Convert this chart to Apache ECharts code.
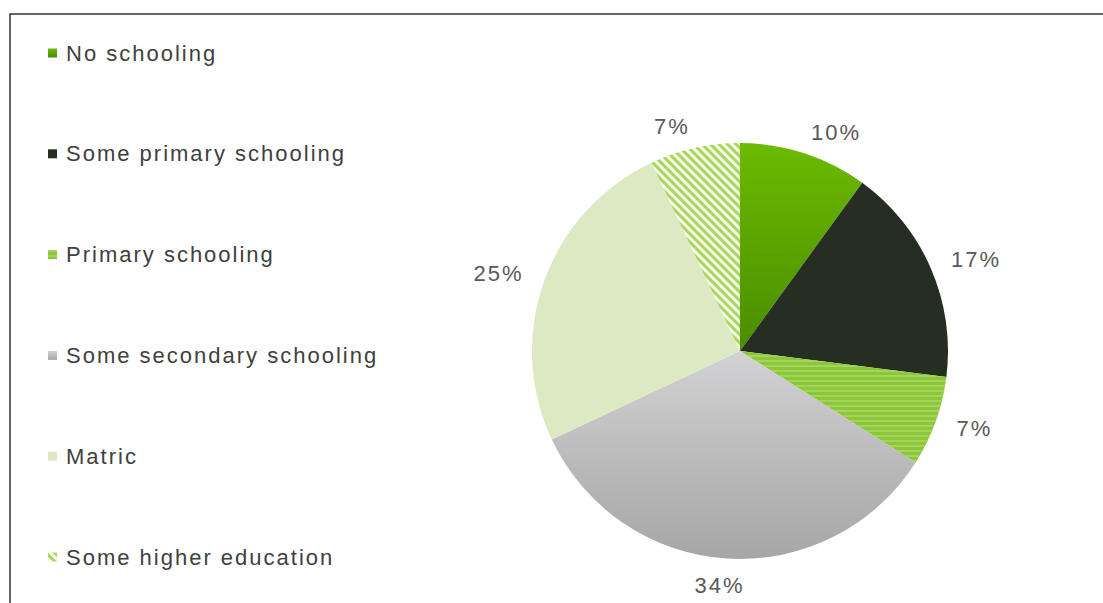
<!DOCTYPE html>
<html>
<head>
<meta charset="utf-8">
<script src="https://cdn.jsdelivr.net/npm/echarts@6/dist/echarts.min.js"></script>
<style>
html,body{margin:0;padding:0;background:#fff;}
#chart{width:1103px;height:603px;}
#chart text{letter-spacing:2px;}
</style>
</head>
<body>
<div id="chart"></div>
<script>
const categories = ['No schooling','Some primary schooling','Primary schooling','Some secondary schooling','Matric','Some higher education'];
const values = [10, 17, 7, 34, 25, 7];

const styles = [
  {color:{type:'linear',x:0,y:0,x2:0,y2:1,colorStops:[{offset:0,color:'#6cba00'},{offset:1,color:'#4a8c00'}]}},
  {color:'#262e21'},
  {color:'#8cc63c', decal:{symbol:'rect',symbolSize:1,dashArrayX:[1,0],dashArrayY:[2,3],rotation:0,color:'rgba(170,215,95,0.8)'}},
  {color:{type:'linear',x:0,y:0,x2:0,y2:1,colorStops:[{offset:0,color:'#d2d2d4'},{offset:1,color:'#a6a6a6'}]}},
  {color:'#dde9c2'},
  {color:'#f4f9e8', decal:{symbol:'rect',symbolSize:1,dashArrayX:[1,0],dashArrayY:[3,3],rotation:Math.PI/4,color:'#a9d65c'}}
];

const data = categories.map((c,i)=>({name:c,value:values[i],itemStyle:styles[i]}));

const chart = echarts.init(document.getElementById('chart'), null, {renderer:'svg'});
chart.setOption({
  animation:false,
  backgroundColor:'#fff',
  graphic:[{
    type:'polyline',
    shape:{points:[[10,603],[10,14],[1103,14]]},
    style:{stroke:'#333',lineWidth:1.5,fill:null}
  }],
  legend:{
    orient:'vertical',
    left:43,
    top:37,
    itemWidth:9,
    itemHeight:9,
    itemGap:78.8,
    icon:'rect',
    textStyle:{fontSize:22,lineHeight:22,color:'#404040',fontFamily:'Liberation Sans, Arial, sans-serif',padding:[0,0,0,4]},
    data:categories
  },
  series:[{
    type:'pie',
    center:[740,351],
    radius:208,
    startAngle:90,
    clockwise:true,
    avoidLabelOverlap:false,
    data:data,
    label:{
      show:true,
      position:'outside',
      formatter:'{c}%',
      fontSize:22,
      color:'#595959',
      fontFamily:'Liberation Sans, Arial, sans-serif',
      distanceToLabelLine:0
    },
    labelLine:{show:false,length:22,length2:0},
    labelLayout:function(p){
      const pts = p.labelLinePoints;
      if(!pts) return {};
      const a = pts[0], b = pts[pts.length-1];
      const dx = b[0]-a[0], dy = b[1]-a[1];
      if(Math.abs(dx) < 0.15*Math.abs(dy)){
        return {x:b[0]-6, y:b[1]+5, align:'center', verticalAlign:'middle'};
      }
      return {};
    },
    emphasis:{disabled:true}
  }]
});
</script>
</body>
</html>
